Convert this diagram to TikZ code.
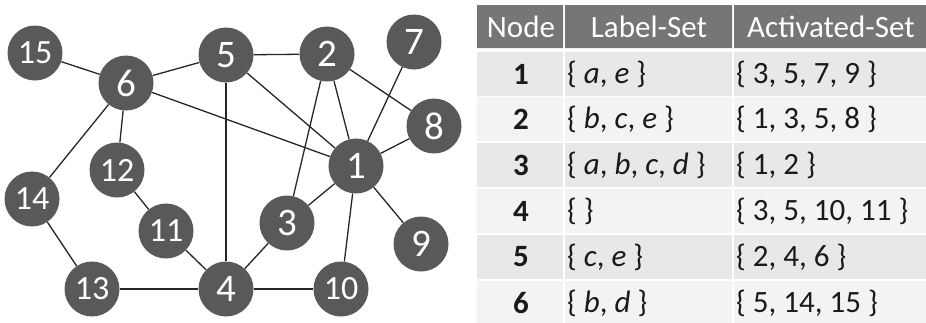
\documentclass[tikz,border=0pt]{standalone}
\usepackage{fontspec}
\setmainfont{Carlito}
\usetikzlibrary{backgrounds}
\definecolor{vertex}{HTML}{595959}
\definecolor{wire}{HTML}{262626}
\definecolor{headgray}{HTML}{767676}
\definecolor{rowdark}{HTML}{E8E8E8}
\definecolor{rowlight}{HTML}{F3F3F3}
\definecolor{ink}{HTML}{1A1A1A}

\begin{document}
\begin{tikzpicture}[x=1pt,y=-1pt,
  vtx/.style={circle,fill=vertex,text=white,inner sep=0pt,minimum size=55pt,
    font=\fontsize{34}{36}\selectfont},
  edge/.style={wire,line width=1.3pt},
  cell/.style={inner sep=0pt,text=ink,font=\fontsize{31}{31}\selectfont}]
\useasboundingbox (0,0) rectangle (926,322);
% graph
\foreach \n/\x/\y in {1/356/166,2/327/54,3/287/223,4/226/289,5/226/55,6/126/83,7/414/42,
  8/434/126,9/421/244,10/341/289,11/166/231,12/117/170,13/92/289,14/32/199,15/35/53}
  \node[vtx] (n\n) at (\x,\y) {\ifnum\n<10 \fontsize{39}{40}\selectfont\fi\n};
\begin{scope}[on background layer]
\foreach \a/\b in {15/6,6/5,5/2,6/1,5/1,5/4,2/1,2/3,2/8,7/1,8/1,1/3,1/9,1/10,
  6/12,6/14,12/11,11/4,3/4,14/13,13/4,4/10}
  \draw[edge] (n\a) -- (n\b);
\end{scope}
% table
\fill[headgray] (477,5) rectangle (563,48) (565,5) rectangle (732,48) (734,5) rectangle (926,48);
\node[cell,text=white] (hnode) at (521,27) {Node};
\node[cell,text=white] (hlabel) at (649,27) {Label-Set};
\node[cell,text=white] (hact) at (831,27) {Activated-Set};
\foreach \y/\c/\n/\l/\s in {
  52/rowdark/1/{\{ \textit{a}, \textit{e} \}}/{\{ 3, 5, 7, 9 \}},
  97/rowlight/2/{\{ \textit{b}, \textit{c}, \textit{e} \}}/{\{ 1, 3, 5, 8 \}},
  143/rowdark/3/{\{ \textit{a}, \textit{b}, \textit{c}, \textit{d} \}}/{\{ 1, 2 \}},
  189/rowlight/4/{\{ \}}/{\{ 3, 5, 10, 11 \}},
  235/rowdark/5/{\{ \textit{c}, \textit{e} \}}/{\{ 2, 4, 6 \}},
  281/rowlight/6/{\{ \textit{b}, \textit{d} \}}/{\{ 5, 14, 15 \}}}{
  \fill[\c] (477,\y) rectangle (563,\y+44) (565,\y) rectangle (732,\y+44) (734,\y) rectangle (926,\y+44);
  \node[cell,font=\fontsize{31}{31}\selectfont\bfseries] (num\n) at (521,\y+22) {\n};
  \node[cell,anchor=west] (lab\n) at (567,\y+22) {\l};
  \node[cell,anchor=west] (act\n) at (736,\y+22) {\s};}
\end{tikzpicture}
\end{document}
